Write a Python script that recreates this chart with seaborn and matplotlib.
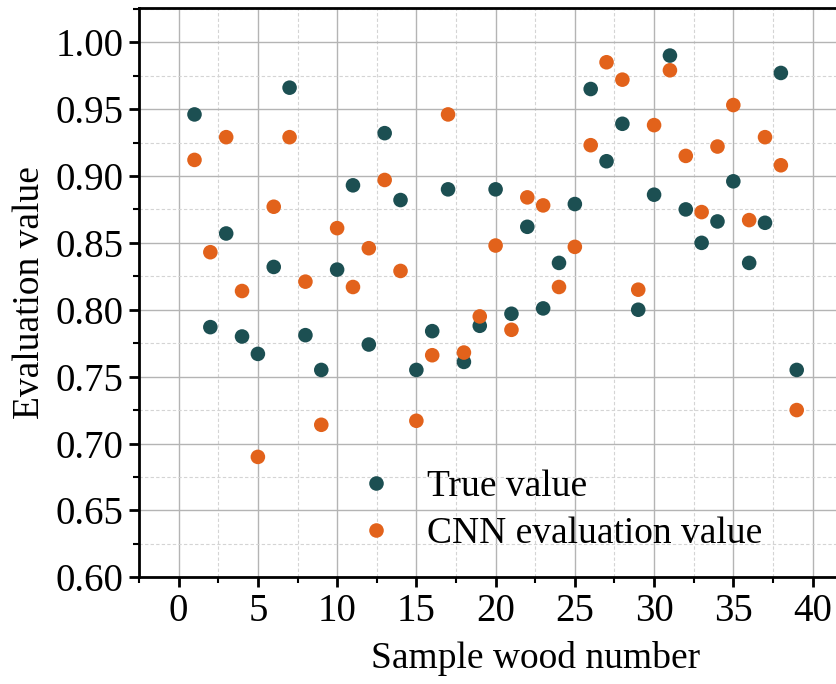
import numpy as np
import pandas as pd
import matplotlib
matplotlib.use("Agg")
import matplotlib.pyplot as plt
import seaborn as sns
from matplotlib.ticker import MultipleLocator, FixedLocator

sample = list(range(1, 40))
true_value = [0.946, 0.787, 0.857, 0.780, 0.767, 0.832, 0.966, 0.781, 0.755, 0.830,
              0.893, 0.774, 0.932, 0.882, 0.755, 0.784, 0.890, 0.761, 0.788, 0.890,
              0.797, 0.862, 0.801, 0.835, 0.879, 0.965, 0.911, 0.939, 0.800, 0.886,
              0.990, 0.875, 0.850, 0.866, 0.896, 0.835, 0.865, 0.977, 0.755]
cnn_value = [0.912, 0.843, 0.929, 0.814, 0.690, 0.877, 0.929, 0.821, 0.714, 0.861,
             0.817, 0.846, 0.897, 0.829, 0.717, 0.766, 0.946, 0.768, 0.795, 0.848,
             0.785, 0.884, 0.878, 0.817, 0.847, 0.923, 0.985, 0.972, 0.815, 0.938,
             0.979, 0.915, 0.873, 0.922, 0.953, 0.867, 0.929, 0.908, 0.725]
x_ticks = [0, 5, 10, 15, 20, 25, 30, 35, 40]
series_names = ["True value", "CNN evaluation value"]
colors = ["#1c4f52", "#e2621b"]

df = pd.DataFrame({"Sample wood number": sample * 2,
                   "Evaluation value": true_value + cnn_value,
                   "Series": [series_names[0]] * len(sample) + [series_names[1]] * len(sample)})

sns.set_style("white")
plt.rcParams["font.family"] = ["Liberation Serif", "DejaVu Serif"]
plt.rcParams["text.color"] = "black"
plt.rcParams["axes.labelcolor"] = "black"
plt.rcParams["xtick.color"] = "black"
plt.rcParams["ytick.color"] = "black"

fig = plt.figure(figsize=(8.37, 6.84), dpi=100)
# axes extends past the right edge of the figure (cropped as in the reference)
ax = fig.add_axes([0.1661, 0.156, 0.9486, 0.832])

sns.scatterplot(data=df, x="Sample wood number", y="Evaluation value", hue="Series",
                hue_order=series_names, palette=colors, s=110, linewidth=0,
                ax=ax, zorder=3)

ax.set_xlim(-2.5, 47.6)
ax.set_ylim(0.60, 1.0254)
ax.xaxis.set_major_locator(FixedLocator(x_ticks))
ax.xaxis.set_minor_locator(MultipleLocator(2.5))
ax.yaxis.set_major_locator(MultipleLocator(0.05))
ax.yaxis.set_minor_locator(MultipleLocator(0.025))
ax.yaxis.set_major_formatter(matplotlib.ticker.FormatStrFormatter("%.2f"))

ax.grid(True, which="major", color="#b4b4b4", linestyle="-", linewidth=1.0, zorder=0)
ax.grid(True, which="minor", color="#d4d4d4", linestyle=(0, (3, 2)), linewidth=0.8, zorder=0)
ax.set_axisbelow(True)

for side in ["left", "bottom", "top"]:
    ax.spines[side].set_visible(True)
    ax.spines[side].set_color("black")
    ax.spines[side].set_linewidth(2.0)
ax.spines["right"].set_visible(False)

ax.tick_params(which="major", direction="out", length=7, width=2, labelsize=28, pad=4,
               bottom=True, left=True, top=False, right=False, colors="black")
ax.tick_params(which="minor", direction="out", length=4, width=1.5,
               bottom=True, left=True, top=False, right=False)

ax.set_xlabel("Sample wood number", fontsize=27, labelpad=8)
ax.set_ylabel("Evaluation value", fontsize=27, labelpad=6)

handles, labels = ax.get_legend_handles_labels()
leg = ax.legend(handles=handles, labels=labels, loc="lower left",
                bbox_to_anchor=(0.4265, 0.194), bbox_transform=fig.transFigure,
                frameon=False, fontsize=27, handlelength=1.0, handletextpad=0.88,
                labelspacing=0.34, borderpad=0, borderaxespad=0, markerscale=1.0)
for t in leg.get_texts():
    t.set_color("black")

fig.savefig("out.png", dpi=100)
